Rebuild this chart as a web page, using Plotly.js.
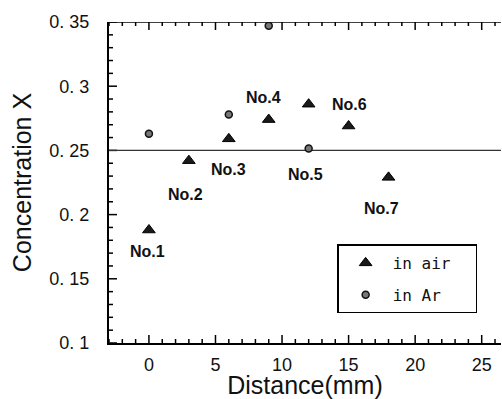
<!DOCTYPE html>
<html>
<head>
<meta charset="utf-8">
<script src="https://cdn.plot.ly/plotly-3.0.1.min.js"></script>
<style>
html,body{margin:0;padding:0;background:#fff;overflow:hidden;}
#chart{width:502px;height:399px;}
</style>
</head>
<body>
<div id="chart"></div>
<script>
// Data
const airX = [0, 3, 6, 9, 12, 15, 18];
const airY = [0.188, 0.242, 0.259, 0.274, 0.286, 0.269, 0.229];
const arX = [0, 6, 9, 12];
const arY = [0.263, 0.278, 0.347, 0.2515];
const sampleLabels = ["No.1", "No.2", "No.3", "No.4", "No.5", "No.6", "No.7"];
const labelX = [-0.1, 2.75, 5.96, 8.6, 11.75, 15.1, 17.45];
const labelY = [0.171, 0.2155, 0.235, 0.291, 0.2315, 0.286, 0.2045];
const yTickVals = [0.1, 0.15, 0.2, 0.25, 0.3, 0.35];
const yTickText = ["0. 1", "0. 15", "0. 2", "0. 25", "0. 3", "0. 35"];
const xTickVals = [0, 5, 10, 15, 20, 25];
const refLevel = 0.25;

const xRange = [-3, 26.45];
const yRange = [0.1, 0.35];
const W = 502, H = 399, M = {l: 109, r: 1, t: 22, b: 56};
const sans = '"Liberation Sans", Arial, sans-serif';

// tick lengths converted from pixels to axis units
const xPerPx = (xRange[1] - xRange[0]) / (W - M.l - M.r);
const yPerPx = (yRange[1] - yRange[0]) / (H - M.t - M.b);

// frame: inward tick marks on bottom, top and left, plus the top line
const frameX = [], frameY = [];
for (let v = Math.ceil(xRange[0]); v <= Math.floor(xRange[1]); v++) {
  const len = (xTickVals.indexOf(v) >= 0 ? 8 : 4) * yPerPx;
  frameX.push(v, v, null, v, v, null);
  frameY.push(yRange[0], yRange[0] + len, null, yRange[1], yRange[1] - len, null);
}
for (let k = 0; k <= 25; k++) {
  const v = +(yRange[0] + k * 0.01).toFixed(2);
  const len = (yTickVals.some(t => Math.abs(t - v) < 1e-9) ? 8 : 4) * xPerPx;
  frameX.push(xRange[0], xRange[0] + len, null);
  frameY.push(v, v, null);
}
frameX.push(xRange[0], xRange[1], null);
frameY.push(yRange[1], yRange[1], null);

const traces = [
  {x: frameX, y: frameY, mode: 'lines', type: 'scatter', showlegend: false, hoverinfo: 'skip',
   cliponaxis: false, line: {color: '#000', width: 1.5}},
  {x: xRange, y: [refLevel, refLevel], mode: 'lines', type: 'scatter', showlegend: false, hoverinfo: 'skip',
   line: {color: '#333', width: 1.2}},
  {x: airX, y: airY, mode: 'markers', type: 'scatter', name: 'in air\u00a0\u00a0', legendgroup: 'a',
   marker: {symbol: 'triangle-up', size: 11, color: '#1a1a1a', line: {color: '#000', width: 1}}},
  {x: arX, y: arY, mode: 'markers', type: 'scatter', name: 'in Ar', legendgroup: 'b',
   marker: {symbol: 'circle', size: 7, color: '#777', line: {color: '#111', width: 1.5}}}
];

const annotations = sampleLabels.map((t, i) => ({
  x: labelX[i], y: labelY[i], xref: 'x', yref: 'y', text: t, showarrow: false,
  font: {family: sans, size: 16, color: '#111', weight: 'bold'}
}));

const layout = {
  width: W, height: H,
  margin: M,
  paper_bgcolor: '#fff', plot_bgcolor: '#fff',
  showlegend: true,
  legend: {x: 0.582, y: 0.307, xanchor: 'left', yanchor: 'top',
    bordercolor: '#000', borderwidth: 1.5, bgcolor: '#fff',
    font: {family: '"DejaVu Sans Mono", "Liberation Mono", monospace', size: 16, color: '#111'},
    tracegroupgap: 8, itemwidth: 44},
  xaxis: {range: xRange, tickmode: 'array', tickvals: xTickVals, ticks: '',
    showline: true, linecolor: '#000', linewidth: 2, mirror: false, showgrid: false, zeroline: false,
    tickfont: {family: sans, size: 18, color: '#111'}, ticklabelstandoff: 4,
    title: {text: 'Distance(mm)', font: {family: sans, size: 25, color: '#111'}, standoff: 5}},
  yaxis: {range: yRange, tickmode: 'array', tickvals: yTickVals, ticktext: yTickText, ticks: '',
    showline: true, linecolor: '#000', linewidth: 2, mirror: false, showgrid: false, zeroline: false,
    tickfont: {family: sans, size: 18, color: '#111'}, ticklabelstandoff: 14,
    title: {text: 'Concentration X', font: {family: sans, size: 25, color: '#111'}, standoff: 11}},
  annotations: annotations
};

Plotly.newPlot('chart', traces, layout, {staticPlot: true, displayModeBar: false});
</script>
</body>
</html>
